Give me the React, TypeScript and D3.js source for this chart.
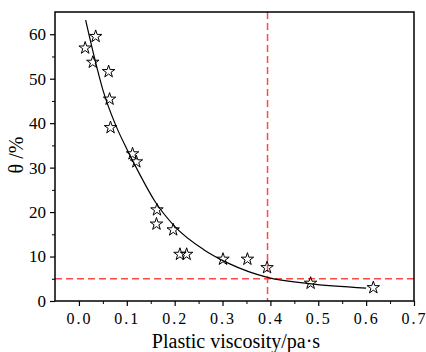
import { useEffect, useRef } from 'react';
import * as d3 from 'd3';

// measured points (plastic viscosity, theta %)
const viscosity = [0.013, 0.035, 0.029, 0.062, 0.064, 0.066, 0.112, 0.12, 0.163, 0.162, 0.197, 0.211, 0.225, 0.301, 0.352, 0.393, 0.484, 0.615];
const theta = [56.9, 59.5, 53.7, 51.6, 45.4, 39.0, 33.1, 31.3, 20.5, 17.3, 16.0, 10.5, 10.5, 9.4, 9.4, 7.5, 4.0, 3.0];

// fitted curve
const fitX = [0.014, 0.03, 0.05, 0.077, 0.1, 0.126, 0.16, 0.2, 0.26, 0.314, 0.394, 0.48, 0.6];
const fitY = [63.2, 55.8, 47.5, 39.5, 34.2, 28.7, 22.2, 16.8, 11.6, 8.4, 5.3, 3.9, 2.9];

const xMajor = [0, 0.1, 0.2, 0.3, 0.4, 0.5, 0.6, 0.7];
const xMinor = [0.05, 0.15, 0.25, 0.35, 0.45, 0.55, 0.65];
const yMajor = [0, 10, 20, 30, 40, 50, 60];
const yMinor = [5, 15, 25, 35, 45, 55];

const refX = 0.394;
const refY = 5;

export default function App() {
  const svgRef = useRef<SVGSVGElement>(null);

  useEffect(() => {
    const W = 426;
    const H = 352;
    const margin = { top: 12, right: 12, bottom: 51, left: 55 };
    const width = W - margin.left - margin.right;
    const height = H - margin.top - margin.bottom;

    d3.select(svgRef.current).selectAll('*').remove();

    const root = d3.select(svgRef.current)
      .attr('width', W)
      .attr('height', H);

    const svg = root.append('g')
      .attr('transform', `translate(${margin.left},${margin.top})`);

    const x = d3.scaleLinear().domain([-0.05, 0.7]).range([0, width]);
    const y = d3.scaleLinear().domain([0, 65]).range([height, 0]);

    // red reference lines
    svg.append('line')
      .attr('x1', x(refX)).attr('x2', x(refX))
      .attr('y1', 0).attr('y2', height)
      .attr('stroke', '#ff4a4a').attr('stroke-width', 1.5)
      .attr('stroke-dasharray', '7,4');
    svg.append('line')
      .attr('x1', 0).attr('x2', width)
      .attr('y1', y(refY)).attr('y2', y(refY))
      .attr('stroke', '#ff4a4a').attr('stroke-width', 1.5)
      .attr('stroke-dasharray', '7,4');

    // fit curve
    const fit = fitX.map((v, i) => [v, fitY[i]] as [number, number]);
    svg.append('path')
      .datum(fit)
      .attr('fill', 'none')
      .attr('stroke', '#000')
      .attr('stroke-width', 1.2)
      .attr('d', d3.line<[number, number]>()
        .x(d => x(d[0]))
        .y(d => y(d[1]))
        .curve(d3.curveMonotoneX));

    // star markers
    const star = d3.symbol().type(d3.symbolStar).size(48);
    svg.selectAll('path.pt')
      .data(viscosity.map((v, i) => [v, theta[i]]))
      .join('path')
      .attr('class', 'pt')
      .attr('transform', d => `translate(${x(d[0])},${y(d[1])})`)
      .attr('d', star())
      .attr('fill', 'none')
      .attr('stroke', '#000')
      .attr('stroke-width', 1);

    // frame
    svg.append('rect')
      .attr('width', width).attr('height', height)
      .attr('fill', 'none')
      .attr('stroke', '#000')
      .attr('stroke-width', 1.5);

    const font = '"Liberation Serif", "Times New Roman", serif';

    // x axis
    const xAxis = svg.append('g')
      .attr('transform', `translate(0,${height})`)
      .call(d3.axisBottom(x).tickValues(xMajor).tickSize(5).tickSizeOuter(0).tickPadding(7)
        .tickFormat(d => d3.format('.1f')(d as number)));
    xAxis.select('.domain').remove();
    xAxis.selectAll('text')
      .attr('fill', '#000')
      .style('font-family', font)
      .style('font-size', '16px')
      .style('letter-spacing', '2px');
    xAxis.selectAll('line').attr('stroke-width', 1.2);

    const xMin = svg.append('g')
      .attr('transform', `translate(0,${height})`)
      .call(d3.axisBottom(x).tickValues(xMinor).tickSize(3).tickFormat(() => ''));
    xMin.select('.domain').remove();

    // y axis
    const yAxis = svg.append('g')
      .call(d3.axisLeft(y).tickValues(yMajor).tickSize(5).tickSizeOuter(0).tickPadding(4));
    yAxis.select('.domain').remove();
    yAxis.selectAll('text')
      .attr('fill', '#000')
      .style('font-family', font)
      .style('font-size', '17px');
    yAxis.selectAll('line').attr('stroke-width', 1.2);

    const yMin = svg.append('g')
      .call(d3.axisLeft(y).tickValues(yMinor).tickSize(3).tickFormat(() => ''));
    yMin.select('.domain').remove();

    // axis titles
    root.append('text')
      .attr('x', 236)
      .attr('y', 348)
      .attr('text-anchor', 'middle')
      .style('font-family', font)
      .style('font-size', '20px')
      .text('Plastic viscosity/pa·s');

    root.append('text')
      .attr('transform', `translate(23,155) rotate(-90)`)
      .attr('text-anchor', 'middle')
      .style('font-family', font)
      .style('font-size', '20px')
      .text('θ /%');
  }, []);

  return (
    <div>
      <svg ref={svgRef} style={{ position: 'absolute', left: 0, top: 0 }}></svg>
    </div>
  );
}
